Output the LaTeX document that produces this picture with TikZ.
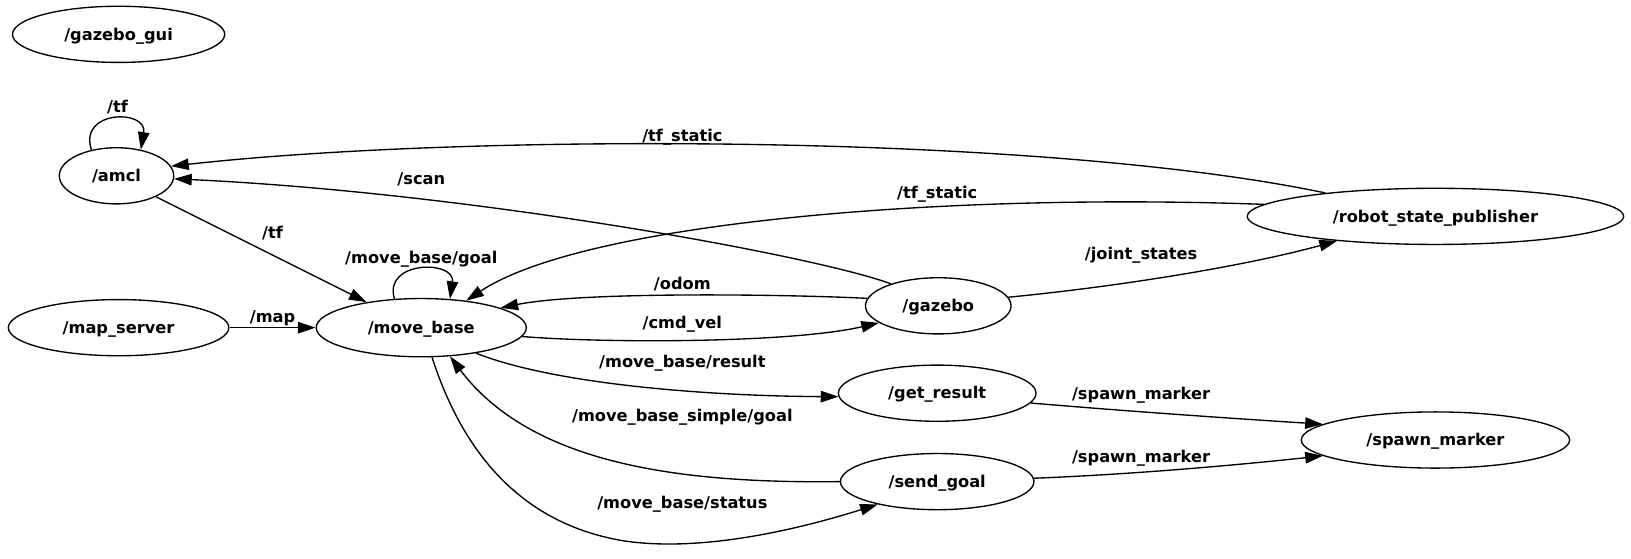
\documentclass[tikz,border=0pt]{standalone}
\usepackage{fontspec}
\setmainfont{DejaVu Sans}
\usetikzlibrary{shapes.geometric,arrows.meta}
\begin{document}
\begin{tikzpicture}[x=0.5pt,y=-0.5pt,
  txt/.style={font=\fontsize{7.8}{9}\selectfont\bfseries,text height=5.5pt,text depth=0pt},
  nd/.style={ellipse,draw,line width=0.65pt,inner sep=0pt,minimum height=27pt,txt},
  lb/.style={inner sep=0pt,txt},
  ed/.style={line width=0.65pt,-{Triangle[length=8.5pt,width=5.5pt]}}]
\useasboundingbox (0,0) rectangle (1568,537);
% nodes
\node[nd,minimum width=102pt] (gui) at (114,33) {/gazebo\_gui};
\node[nd,minimum width=55pt] (amcl) at (112,169) {/amcl};
\node[nd,minimum width=106pt] (ms) at (114,315) {/map\_server};
\node[nd,minimum width=101pt,minimum height=28pt] (mb) at (405,315) {/move\_base};
\node[nd,minimum width=70pt] (gz) at (902,294) {/gazebo};
\node[nd,minimum width=181pt] (rsp) at (1380,208) {/robot\_state\_publisher};
\node[nd,minimum width=95pt] (gr) at (901,378) {/get\_result};
\node[nd,minimum width=93pt] (sg) at (901,463) {/send\_goal};
\node[nd,minimum width=129pt] (sm) at (1380,423) {/spawn\_marker};
% edges
\draw[ed] (amcl.134) .. controls (75,105) and (142,105) .. (amcl.47);
\draw[ed] (rsp.168) .. controls (1000,128) and (450,128) .. (amcl.10);
\draw[ed] (gz.155) .. controls (780,245) and (450,185) .. (amcl.357);
\draw[ed] (amcl.-28) -- (mb.155);
\draw[ed] (mb.133) .. controls (368,250) and (438,250) .. (mb.45);
\draw[ed] (rsp.176) .. controls (900,185) and (560,215) .. (mb.31);
\draw[ed] (gz.174) .. controls (760,283) and (560,280) .. (mb.14);
\draw[ed] (ms.east) -- (mb.west);
\draw[ed] (mb.-5) .. controls (580,330) and (760,330) .. (gz.196);
\draw[ed] (gz.7) .. controls (1080,275) and (1200,255) .. (rsp.194);
\draw[ed] (mb.-25) .. controls (540,372) and (700,381) .. (gr.182);
\draw[ed] (sg.180) .. controls (650,465) and (510,445) .. (mb.-45);
\draw[ed] (mb.-70) .. controls (440,420) and (490,502) .. (600,520) .. controls (680,532) and (780,505) .. (sg.201);
\draw[ed] (gr.-6) .. controls (1080,395) and (1180,402) .. (sm.172);
\draw[ed] (sg.2) .. controls (1090,456) and (1190,447) .. (sm.188);
% labels
\node[lb] (l1) at (113,103) {/tf};
\node[lb] (l2) at (656,131) {/tf\_static};
\node[lb] (l3) at (405,172) {/scan};
\node[lb] (l4) at (262,224) {/tf};
\node[lb] (l5) at (405,248) {/move\_base/goal};
\node[lb] (l6) at (901,185) {/tf\_static};
\node[lb] (l7) at (1097,244) {/joint\_states};
\node[lb] (l8) at (656,273) {/odom};
\node[lb] (l9) at (262,305) {/map};
\node[lb] (l10) at (656,310) {/cmd\_vel};
\node[lb] (l11) at (656,348) {/move\_base/result};
\node[lb] (l12) at (656,400) {/move\_base\_simple/goal};
\node[lb] (l13) at (656,483) {/move\_base/status};
\node[lb] (l14) at (1097,379) {/spawn\_marker};
\node[lb] (l15) at (1097,439) {/spawn\_marker};
\end{tikzpicture}
\end{document}
